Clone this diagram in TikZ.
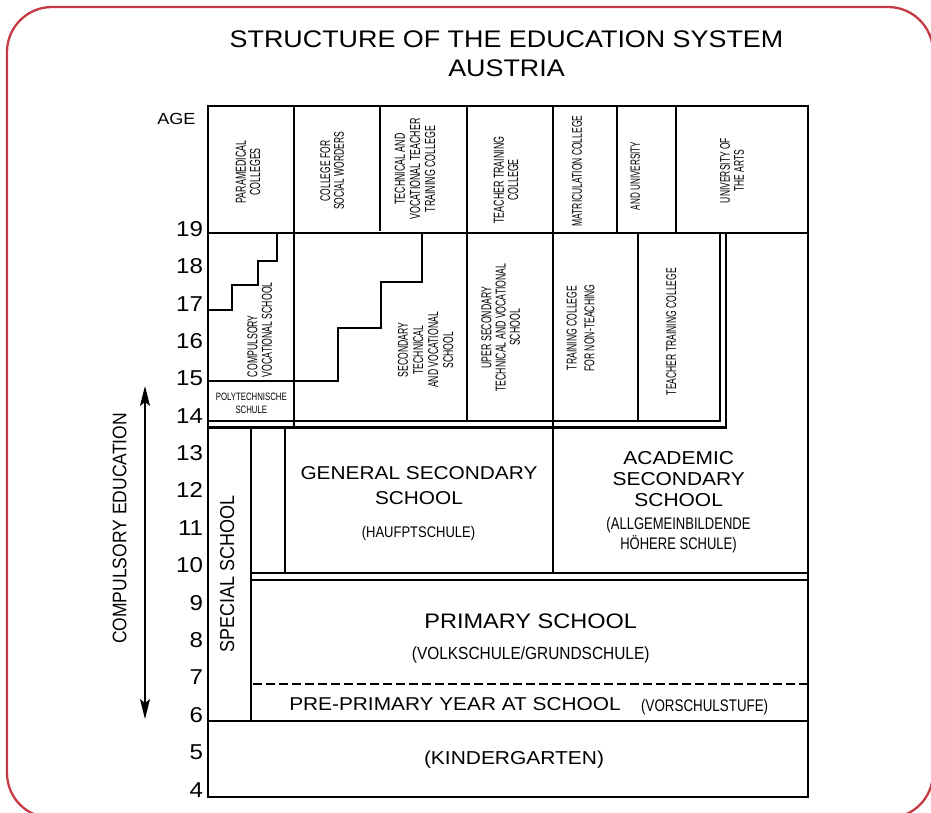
\documentclass[tikz,border=0pt]{standalone}
\usepackage{fontspec}
\setmainfont{Liberation Sans}
\newfontfamily\narrowfont[FakeStretch=0.68]{Liberation Sans}
\usepackage{graphicx}
\usetikzlibrary{arrows.meta}
\definecolor{framered}{RGB}{198,58,68}
\newcommand\hs[2]{\scalebox{#1}[1]{#2}}
\newcommand\vs[3]{\scalebox{#1}[1]{\rotatebox{90}{\begin{tabular}{@{}#2@{}}#3\end{tabular}}}}
\newcommand\fs[2]{\fontsize{#1}{#2}\selectfont}
\tikzset{
  lbl/.style={inner sep=0pt, outer sep=0pt},
  bordr/.style={line width=2.8pt, line join=miter},
  thk/.style={line width=2.6pt},
  thn/.style={line width=1.8pt},
  redframe/.style={draw=framered, line width=2.3pt, rounded corners=45pt},
  bothtips/.style={{Stealth[length=20pt,width=10pt,inset=4pt]}-{Stealth[length=20pt,width=10pt,inset=4pt]}},
}
\begin{document}
\begin{tikzpicture}[x=1pt,y=-1pt]
\useasboundingbox (0,0) rectangle (931,812);
\begin{scope}
\clip (0,0) rectangle (931,812);
\draw[redframe] (7,7) rectangle (933,818);
\end{scope}

% title
\node[lbl, anchor=base, font=\fs{24}{29}] (title1) at (506.5,47.3) {\hs{1.12}{STRUCTURE OF THE EDUCATION SYSTEM}};
\node[lbl, anchor=base, font=\fs{24}{29}] (title2) at (506.5,76.8) {\hs{1.12}{AUSTRIA}};

% ages
\node[lbl, anchor=base east, font=\fs{16.1}{19}] (agelbl) at (195.5,124) {\hs{1.12}{AGE}};
\foreach \n in {4,...,19}
  \node[lbl, anchor=base east, font=\fs{21.5}{25}] (a\n) at (203,{797-(\n-4)*37.38}) {\hs{1.12}{\n}};

% outer box and lines
\draw[bordr] (208,106) rectangle (808,797);
\draw[thk] (208,233) -- (808,233);
\draw[thk] (294,106) -- (294,428);
\draw[thn] (380,106) -- (380,231);
\draw[thn] (467,106) -- (467,421);
\draw[thk] (553,106) -- (553,573);
\draw[thn] (617,106) -- (617,233);
\draw[thn, line width=2.1pt] (676,106) -- (676,233);
% staircases
\draw[thn] (208,381) -- (338,381) -- (338,328) -- (381,328) -- (381,282) -- (422,282) -- (422,233);
\draw[thn] (208,310) -- (232,310) -- (232,285) -- (258,285) -- (258,261) -- (277,261) -- (277,233);
\draw[thn] (638,233) -- (638,421);
% double border of upper block
\draw[thk, line width=2.5pt] (208,421) -- (720,421) -- (720,233);
\draw[thk, line width=2.5pt] (208,427.5) -- (726,427.5) -- (726,233);
% lower part
\draw[thn] (251,427.5) -- (251,721);
\draw[thk] (285,427.5) -- (285,573);
\draw[thk, line width=2.5pt] (251,573) -- (808,573);
\draw[thk, line width=2.5pt] (251,580) -- (808,580);
\draw[thk, line width=2.5pt, dash pattern=on 8.5pt off 4.5pt] (253,684) -- (808,684);
\draw[thk] (208,721) -- (808,721);

% compulsory education arrow
\coordinate (ctop) at (145,386);
\coordinate (cbot) at (145,719);
\draw[line width=1.4pt, bothtips] (ctop) -- (cbot);
\node[lbl, font=\fs{17.5}{20}] (compedu) at (122,528.5) {\vs{1.12}{c}{COMPULSORY EDUCATION}};

% header texts
\node[lbl, font=\narrowfont\fs{13}{12.5}] (paramed) at (250,172) {\vs{1.12}{c}{PARAMEDICAL\\COLLEGES}};
\node[lbl, font=\narrowfont\fs{12.5}{11.6}] (social) at (334,171) {\vs{1.12}{c}{COLLEGE FOR\\SOCIAL WORDERS}};
\node[lbl, font=\narrowfont\fs{13}{13.4}] (techvoc) at (417,169) {\vs{1.12}{c}{TECHNICAL AND\\VOCATIONAL TEACHER\\TRAINING COLLEGE}};
\node[lbl, font=\narrowfont\fs{13}{12.5}] (teachtr) at (508,180) {\vs{1.12}{c}{TEACHER TRAINING\\COLLEGE}};
\node[lbl, font=\narrowfont\fs{12.5}{12.5}] (matric) at (579,171) {\vs{1.12}{c}{MATRICULATION COLLEGE}};
\node[lbl, font=\narrowfont\fs{12}{12.5}] (univ) at (637,176) {\vs{1.12}{c}{AND UNIVERSITY}};
\node[lbl, font=\narrowfont\fs{12.5}{12.2}] (arts) at (734,170.5) {\vs{1.12}{c}{UNIVERSITY OF\\THE ARTS}};

% middle rotated texts
\node[lbl, anchor=south, font=\narrowfont\fs{12.8}{13.1}] (compvoc) at (261.7,377) {\vs{1.12}{l}{COMPULSORY\\VOCATIONAL SCHOOL}};
\node[lbl, font=\narrowfont\fs{12.7}{13.4}] (sectech) at (427.5,350) {\vs{1.12}{c}{SECONDARY\\TECHNICAL\\AND VOCATIONAL\\SCHOOL}};
\node[lbl, font=\narrowfont\fs{12.8}{12.7}] (upersec) at (502.8,327.5) {\vs{1.12}{c}{UPER SECONDARY\\TECHNICAL AND VOCATIONAL\\SCHOOL}};
\node[lbl, font=\narrowfont\fs{12.7}{15.8}] (nonteach) at (582,328) {\vs{1.12}{c}{TRAINING COLLEGE\\FOR NON-TEACHING}};
\node[lbl, font=\narrowfont\fs{12.6}{12.6}] (teachcol) at (673.3,331.5) {\vs{1.12}{c}{TEACHER TRAINING COLLEGE}};
\node[lbl, anchor=base, font=\narrowfont\fs{10.7}{13}] (poly1) at (251.3,400) {\hs{1.07}{POLYTECHNISCHE}};
\node[lbl, anchor=base, font=\narrowfont\fs{10.7}{13}] (poly2) at (251.3,413.3) {\hs{1.07}{SCHULE}};

% special school
\node[lbl, font=\fs{18}{21}] (special) at (229.5,573.5) {\vs{1.12}{c}{SPECIAL SCHOOL}};

% general secondary
\node[lbl, anchor=base, font=\fs{18.6}{22}] (gen1) at (419,479.3) {\hs{1.12}{GENERAL SECONDARY}};
\node[lbl, anchor=base, font=\fs{18.6}{22}] (gen2) at (419,504) {\hs{1.12}{SCHOOL}};
\node[lbl, anchor=base, font=\narrowfont\fs{15.4}{18}] (gen3) at (418.5,537) {\hs{1.24}{(HAUFPTSCHULE)}};

% academic secondary
\node[lbl, anchor=base, font=\fs{18.7}{22}] (acad1) at (678.7,464) {\hs{1.12}{ACADEMIC}};
\node[lbl, anchor=base, font=\fs{18.7}{22}] (acad2) at (678.7,485) {\hs{1.12}{SECONDARY}};
\node[lbl, anchor=base, font=\fs{18.7}{22}] (acad3) at (678.7,506) {\hs{1.12}{SCHOOL}};
\node[lbl, anchor=base, font=\narrowfont\fs{16.8}{20}] (acad4) at (678.5,529.3) {\hs{1.14}{(ALLGEMEINBILDENDE}};
\node[lbl, anchor=base, font=\narrowfont\fs{16.8}{20}] (acad5) at (678.5,549.5) {\hs{1.14}{HÖHERE SCHULE)}};

% primary
\node[lbl, anchor=base, font=\fs{21}{25}] (prim1) at (530.7,628.3) {\hs{1.12}{PRIMARY SCHOOL}};
\node[lbl, anchor=base, font=\narrowfont\fs{17.6}{20}] (prim2) at (530.7,659.3) {\hs{1.29}{(VOLKSCHULE/GRUNDSCHULE)}};
\node[lbl, anchor=base, font=\fs{18.6}{22}] (pre1) at (455,710.7) {\hs{1.12}{PRE-PRIMARY YEAR AT SCHOOL}};
\node[lbl, anchor=base, font=\narrowfont\fs{16.8}{20}] (pre2) at (704.7,711) {\hs{1.17}{(VORSCHULSTUFE)}};

% kindergarten
\node[lbl, anchor=base, font=\fs{18.7}{22}] (kinder) at (514,764) {\hs{1.12}{(KINDERGARTEN)}};
\end{tikzpicture}
\end{document}
